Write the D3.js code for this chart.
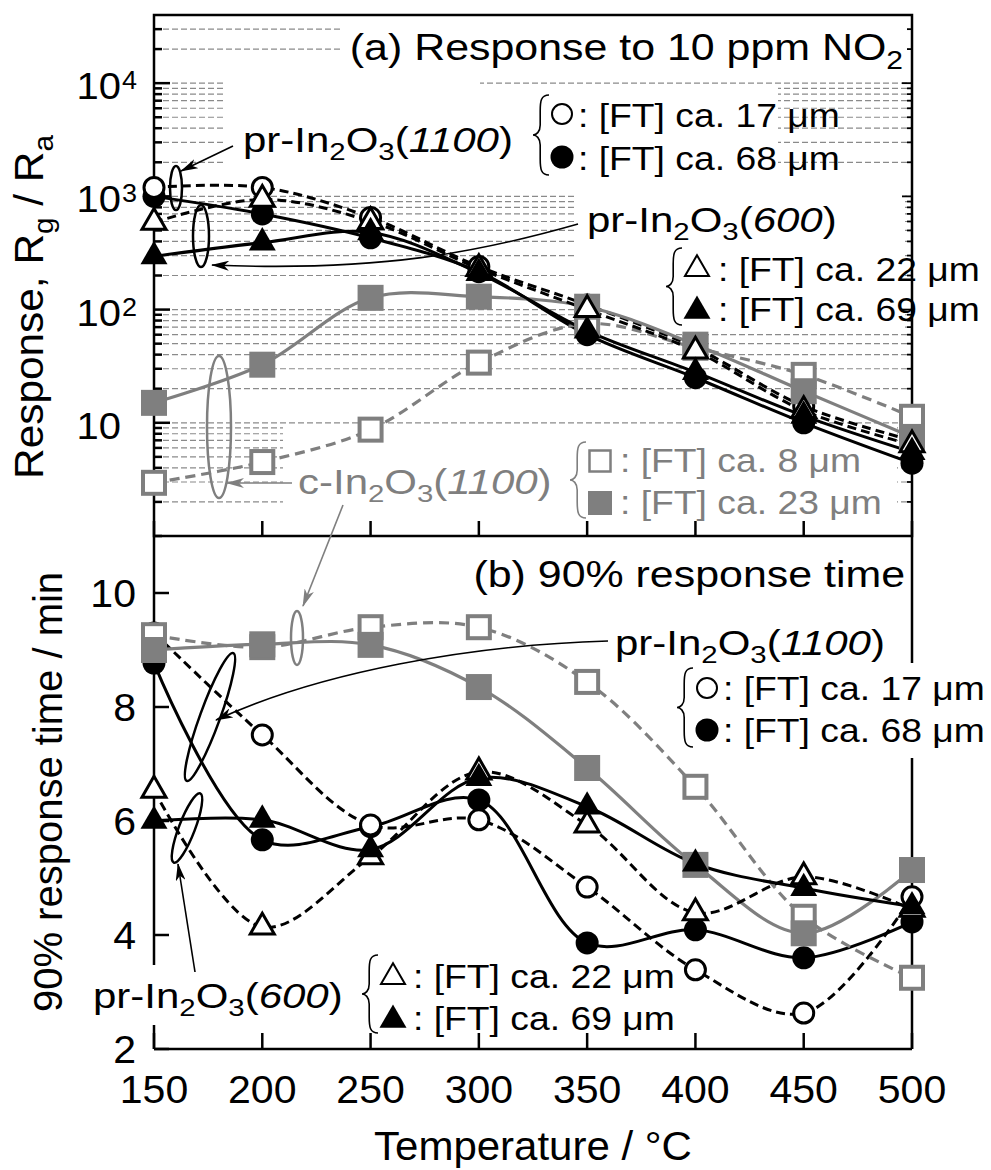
<!DOCTYPE html>
<html>
<head>
<meta charset="utf-8">
<script src="https://cdn.jsdelivr.net/npm/d3@7"></script>
<style>
  body { margin: 0; background: #fff; }
  svg { display: block; }
  text { font-family: "Liberation Sans", Arial, Helvetica, sans-serif; }
</style>
</head>
<body>
<svg id="chart" width="991" height="1170"></svg>
<script>
// ---- data ----
const temps = [150, 200, 250, 300, 350, 400, 450, 500];

// (a) response Rg/Ra to 10 ppm NO2
const respPr1100Thin  = [1200, 1200, 650, 240, 110, 46, 14, 7.0];   // open circle
const respPr1100Thick = [1000, 700, 430, 216, 60, 25, 10, 4.4];     // filled circle
const respPr600Thin   = [590, 940, 600, 230, 100, 43, 12.8, 6.4];   // open triangle
const respPr600Thick  = [295, 390, 480, 210, 65, 28, 11.5, 5.5];    // filled triangle
const respCThin       = [2.95, 4.5, 8.7, 34, 75, 46, 26.5, 11.3];   // open square
const respCThick      = [15, 32.6, 127, 130, 106, 49, 19, 7.5];     // filled square

// (b) 90% response time / min
const timePr1100Thin  = [9.3, 7.51, 5.93, 6.02, 4.84, 3.39, 2.63, 4.67];
const timePr1100Thick = [8.77, 5.67, 5.9, 6.37, 3.86, 4.09, 3.6, 4.23];
const timePr600Thin   = [6.54, 4.14, 5.37, 6.86, 5.93, 4.39, 5.02, 4.45];
const timePr600Thick  = [6.0, 6.02, 5.5, 6.75, 6.25, 5.25, 4.82, 4.5];
const timeCThin       = [9.26, 9.05, 9.4, 9.4, 8.44, 6.6, 4.32, 3.25];
const timeCThick      = [9.0, 9.1, 9.09, 8.35, 6.93, 5.23, 4.03, 5.14];

const xTicks = temps;
const yTicksB = [2, 4, 6, 8, 10];
const yMajorA = [10, 100, 1000, 10000];

// ---- layout ----
const GRAY = '#7f7f7f';
const L = 154, R = 912, TOP_A = 15, BOT_A = 536, BOT_B = 1049;

const svg = d3.select('#chart');
const x = d3.scaleLinear([150, 500], [L, R]);
const ya = d3.scaleLog([1, 40000], [BOT_A, TOP_A]);
const yb = d3.scaleLinear([2, 11], [BOT_B, BOT_A]);

// arrow markers
const defs = svg.append('defs');
[['arrBlack', '#000'], ['arrGray', GRAY]].forEach(([id, c]) => {
  defs.append('marker').attr('id', id)
    .attr('viewBox', '0 0 18 10').attr('refX', 17).attr('refY', 5)
    .attr('markerWidth', 18).attr('markerHeight', 10)
    .attr('markerUnits', 'userSpaceOnUse').attr('orient', 'auto')
    .append('path').attr('d', 'M0,0 L18,5 L0,10 L5,5 Z').attr('fill', c);
});

// text (horizontally widened like the original typesetting), with sub/sup and italics
function rich(sel, px, py, parts, size, opt = {}) {
  const sx = opt.sx || 1, rot = opt.rot || 0;
  const g = sel.append('g').attr('transform', `translate(${px},${py}) rotate(${rot}) scale(${sx},1)`);
  const t = g.append('text').attr('x', 0).attr('y', 0)
    .attr('font-size', size).attr('fill', opt.color || '#000')
    .attr('text-anchor', opt.anchor || 'start');
  if (typeof parts === 'string') parts = [{ t: parts }];
  let shift = 0;
  parts.forEach(p => {
    const s = t.append('tspan').text(p.t);
    const target = p.sub ? size * 0.24 : p.sup ? -size * 0.4 : 0;
    if (target !== shift) s.attr('dy', target - shift);
    shift = target;
    if (p.sub || p.sup) s.attr('font-size', size * 0.7);
    if (p.it) s.attr('font-style', 'italic');
  });
  return t;
}
const inName = (pre, italicPart) => [
  { t: pre + '-In' }, { t: '2', sub: true }, { t: 'O' }, { t: '3', sub: true },
  { t: '(' }, { t: italicPart, it: true }, { t: ')' }
];

function brace(sel, bx, y0, y1, w, color = '#000') {
  const ym = (y0 + y1) / 2, xm = bx + w * 0.45;
  sel.append('path')
    .attr('d', `M${bx + w},${y0} C${bx + w * 0.5},${y0} ${xm},${y0 + 6} ${xm},${y0 + 16}
      L${xm},${ym - 10} C${xm},${ym - 3} ${bx + w * 0.2},${ym} ${bx},${ym}
      C${bx + w * 0.2},${ym} ${xm},${ym + 3} ${xm},${ym + 10}
      L${xm},${y1 - 16} C${xm},${y1 - 6} ${bx + w * 0.5},${y1} ${bx + w},${y1}`)
    .attr('fill', 'none').attr('stroke', color).attr('stroke-width', 1.6);
}

// ---- gridlines panel (a) ----
const gridVals = [];
for (let n = 0; n <= 4; n++) for (let k = 1; k <= 9; k++) {
  const v = k * Math.pow(10, n);
  if (v > 1 && v < 40000) gridVals.push(v);
}
svg.append('g').selectAll('line').data(gridVals).join('line')
  .attr('x1', L).attr('x2', R).attr('y1', d => ya(d)).attr('y2', d => ya(d))
  .attr('stroke', '#8a8a8a').attr('stroke-width', 1.2).attr('stroke-dasharray', '6,3');

// white boxes under annotation text in (a)
const masksA = [
  [341, 16, 571, 60], [223, 80, 257, 110], [223, 86, 555, 104],
  [577, 190, 328, 138], [283, 426, 614, 110]
];
svg.append('g').selectAll('rect').data(masksA).join('rect')
  .attr('x', d => d[0]).attr('y', d => d[1]).attr('width', d => d[2]).attr('height', d => d[3])
  .attr('fill', '#fff');

// ---- axes ----
const axes = svg.append('g').attr('stroke', '#000').attr('stroke-width', 2.5).attr('fill', 'none');
axes.append('rect').attr('x', L).attr('y', TOP_A).attr('width', R - L).attr('height', BOT_A - TOP_A);
axes.append('line').attr('x1', L).attr('x2', L).attr('y1', BOT_A).attr('y2', BOT_B);
axes.append('line').attr('x1', R).attr('x2', R).attr('y1', BOT_A).attr('y2', BOT_B);
axes.append('line').attr('x1', L).attr('x2', R).attr('y1', BOT_B).attr('y2', BOT_B);

// log ticks (a), left and right
const logTicks = gridVals.concat([1]);
axes.append('g').selectAll('line').data(logTicks).join('line')
  .attr('x1', L).attr('x2', d => L + (yMajorA.includes(d) ? 16 : 8))
  .attr('y1', d => ya(d)).attr('y2', d => ya(d));
axes.append('g').selectAll('line').data(logTicks).join('line')
  .attr('x1', R).attr('x2', d => R - (yMajorA.includes(d) ? 10 : 5))
  .attr('y1', d => ya(d)).attr('y2', d => ya(d)).attr('stroke-width', 1.8);
// x ticks (a) and (b)
axes.append('g').selectAll('line').data(xTicks).join('line')
  .attr('x1', d => x(d)).attr('x2', d => x(d)).attr('y1', BOT_A).attr('y2', BOT_A - 15);
axes.append('g').selectAll('line').data(xTicks).join('line')
  .attr('x1', d => x(d)).attr('x2', d => x(d)).attr('y1', BOT_B).attr('y2', BOT_B - 16);
// y ticks (b)
axes.append('g').selectAll('line').data(yTicksB).join('line')
  .attr('x1', L).attr('x2', L + 15).attr('y1', d => yb(d)).attr('y2', d => yb(d));

// white boxes in (b) that cut the axis lines
const masksB = [[682, 663, 309, 95], [90, 965, 262, 60]];
svg.append('g').selectAll('rect').data(masksB).join('rect')
  .attr('x', d => d[0]).attr('y', d => d[1]).attr('width', d => d[2]).attr('height', d => d[3])
  .attr('fill', '#fff');

// ---- tick labels ----
const lab = svg.append('g');
const TSX = 1.08;
yMajorA.forEach(v => {
  const e = Math.round(Math.log10(v));
  rich(lab, 121, ya(v) + 16, '10', 37, { anchor: 'end', sx: TSX });
  if (e > 1) rich(lab, 122, ya(v) + 6, String(e), 25, { sx: TSX });
});
yTicksB.forEach(v => rich(lab, 136, yb(v) + 13.5, String(v), 38, { anchor: 'end', sx: TSX }));
xTicks.forEach(v => rich(lab, x(v), 1103, String(v), 38, { anchor: 'middle', sx: TSX }));
rich(lab, (L + R) / 2, 1160, 'Temperature / °C', 40, { anchor: 'middle', sx: 1.05 });
rich(lab, 43, 307, [{ t: 'Response, R' }, { t: 'g', sub: true }, { t: ' / R' }, { t: 'a', sub: true }], 40,
  { anchor: 'middle', rot: -90, sx: 1.06 });
rich(lab, 62, 792, '90% response time / min', 40, { anchor: 'middle', rot: -90, sx: 1.0 });

// ---- series ----
const styles = {
  pr1100Thin:  { shape: 'circle',   open: true,  color: '#000', dash: '9,5' },
  pr1100Thick: { shape: 'circle',   open: false, color: '#000', dash: null },
  pr600Thin:   { shape: 'triangle', open: true,  color: '#000', dash: '9,5' },
  pr600Thick:  { shape: 'triangle', open: false, color: '#000', dash: null },
  cThin:       { shape: 'square',   open: true,  color: GRAY,   dash: '10,6' },
  cThick:      { shape: 'square',   open: false, color: GRAY,   dash: null }
};
const panels = [
  { y: ya, series: [
    ['pr1100Thick', respPr1100Thick], ['pr1100Thin', respPr1100Thin],
    ['cThin', respCThin], ['cThick', respCThick],
    ['pr600Thin', respPr600Thin], ['pr600Thick', respPr600Thick]] },
  { y: yb, series: [
    ['pr1100Thick', timePr1100Thick], ['pr1100Thin', timePr1100Thin],
    ['cThin', timeCThin], ['cThick', timeCThick],
    ['pr600Thin', timePr600Thin], ['pr600Thick', timePr600Thick]] }
];

function drawMarker(g, st, cx, cy, legend = false) {
  if (st.shape === 'circle') {
    g.append('circle').attr('cx', cx).attr('cy', cy).attr('r', st.open ? 10 : 11.5)
      .attr('fill', st.open ? '#fff' : st.color).attr('stroke', st.open ? st.color : 'none')
      .attr('stroke-width', legend ? 2 : 3);
  } else if (st.shape === 'square') {
    const s = st.open ? (legend ? 21 : 22) : (legend ? 24 : 26);
    g.append('rect').attr('x', cx - s / 2).attr('y', cy - s / 2).attr('width', s).attr('height', s)
      .attr('fill', st.open ? '#fff' : st.color).attr('stroke', st.open ? st.color : 'none')
      .attr('stroke-width', legend ? 2.5 : 4);
  } else {
    const side = st.open ? 24 : 27;
    g.append('path').attr('transform', `translate(${cx},${cy})`)
      .attr('d', d3.symbol(d3.symbolTriangle, Math.sqrt(3) / 4 * side * side)())
      .attr('fill', st.open ? '#fff' : st.color).attr('stroke', st.open ? st.color : 'none')
      .attr('stroke-width', legend ? 2 : 3);
  }
}

panels.forEach(p => {
  const line = d3.line().x((d, i) => x(temps[i])).y(d => p.y(d))
    .curve(d3.curveCatmullRom.alpha(0.5));
  const gl = svg.append('g');
  p.series.forEach(([key, vals]) => {
    const st = styles[key];
    gl.append('path').attr('d', line(vals)).attr('fill', 'none')
      .attr('stroke', st.color).attr('stroke-width', st.color === GRAY ? 3.2 : 3)
      .attr('stroke-dasharray', st.dash);
  });
  const gm = svg.append('g');
  p.series.forEach(([key, vals]) => {
    vals.forEach((v, i) => drawMarker(gm, styles[key], x(temps[i]), p.y(v)));
  });
});

// ---- annotations ----
const ann = svg.append('g');
const thin = (sel, c = '#000') => sel.attr('fill', 'none').attr('stroke', c).attr('stroke-width', 1.6);
const LBL = 1.2, TTL = 1.16, LEG = 1.13;

// (a) titles and labels
rich(ann, 903, 60, [{ t: '(a) Response to 10 ppm NO' }, { t: '2', sub: true }], 37, { anchor: 'end', sx: TTL });
rich(ann, 243, 152, inName('pr', '1100'), 35, { sx: LBL });
rich(ann, 587, 232, inName('pr', '600'), 35, { sx: LBL });
rich(ann, 298, 494, inName('c', '1100'), 35, { sx: LBL, color: GRAY });

// (a) pr1100: arrow + ellipse
thin(ann.append('line').attr('x1', 233).attr('y1', 146).attr('x2', 181).attr('y2', 171))
  .attr('marker-end', 'url(#arrBlack)');
ann.append('ellipse').attr('cx', 176).attr('cy', 188).attr('rx', 6).attr('ry', 22)
  .attr('fill', 'none').attr('stroke', '#000').attr('stroke-width', 2.5);
// (a) pr600: curved leader + ellipse
thin(ann.append('path').attr('d', 'M578,224 C480,252 380,272 212,265'))
  .attr('marker-end', 'url(#arrBlack)');
ann.append('ellipse').attr('cx', 201).attr('cy', 236).attr('rx', 8).attr('ry', 31)
  .attr('fill', 'none').attr('stroke', '#000').attr('stroke-width', 2.5);
// (a) c-In2O3: arrow + ellipse, and leader into (b)
thin(ann.append('line').attr('x1', 292).attr('y1', 483).attr('x2', 227).attr('y2', 483), GRAY)
  .attr('marker-end', 'url(#arrGray)');
ann.append('ellipse').attr('cx', 219).attr('cy', 427).attr('rx', 12).attr('ry', 71)
  .attr('fill', 'none').attr('stroke', GRAY).attr('stroke-width', 2.5);
thin(ann.append('line').attr('x1', 343).attr('y1', 505).attr('x2', 303).attr('y2', 606), GRAY)
  .attr('marker-end', 'url(#arrGray)');
ann.append('ellipse').attr('cx', 297).attr('cy', 638).attr('rx', 6).attr('ry', 27)
  .attr('fill', 'none').attr('stroke', GRAY).attr('stroke-width', 2.5);

// legends
function legend(bx, y0, y1, items, color, size = 33) {
  brace(ann, bx, y0, y1, 16, color);
  items.forEach(it => {
    drawMarker(ann, styles[it.key], it.sx, it.sy, true);
    rich(ann, it.tx, it.ty, it.text, size, { sx: LEG, color });
  });
}
legend(533, 95, 175, [
  { key: 'pr1100Thin', sx: 562, sy: 114, tx: 578, ty: 127, text: ': [FT] ca. 17 μm' },
  { key: 'pr1100Thick', sx: 562, sy: 157, tx: 578, ty: 170, text: ': [FT] ca. 68 μm' }
], '#000');
legend(666, 248, 325, [
  { key: 'pr600Thin', sx: 697, sy: 269, tx: 718, ty: 281, text: ': [FT] ca. 22 μm' },
  { key: 'pr600Thick', sx: 697, sy: 311, tx: 718, ty: 321, text: ': [FT] ca. 69 μm' }
], '#000');
legend(570, 442, 518, [
  { key: 'cThin', sx: 600, sy: 461, tx: 620, ty: 472, text: ': [FT] ca. 8 μm' },
  { key: 'cThick', sx: 600, sy: 503, tx: 620, ty: 514, text: ': [FT] ca. 23 μm' }
], GRAY);

// (b) titles and labels
rich(ann, 905, 587, '(b) 90% response time', 37, { anchor: 'end', sx: TTL });
rich(ann, 615, 655, inName('pr', '1100'), 35, { sx: LBL });
rich(ann, 93, 1008, inName('pr', '600'), 35, { sx: LBL });

thin(ann.append('path').attr('d', 'M608,641 C470,645 320,672 216,720'))
  .attr('marker-end', 'url(#arrBlack)');
ann.append('ellipse').attr('cx', 210).attr('cy', 717).attr('rx', 10).attr('ry', 68)
  .attr('transform', 'rotate(20,210,717)')
  .attr('fill', 'none').attr('stroke', '#000').attr('stroke-width', 2.5);
thin(ann.append('line').attr('x1', 195).attr('y1', 972).attr('x2', 178).attr('y2', 864))
  .attr('marker-end', 'url(#arrBlack)');
ann.append('ellipse').attr('cx', 187).attr('cy', 828).attr('rx', 8).attr('ry', 37)
  .attr('transform', 'rotate(21,187,828)')
  .attr('fill', 'none').attr('stroke', '#000').attr('stroke-width', 2.5);

legend(677, 668, 747, [
  { key: 'pr1100Thin', sx: 707, sy: 688, tx: 723, ty: 700, text: ': [FT] ca. 17 μm' },
  { key: 'pr1100Thick', sx: 707, sy: 730, tx: 723, ty: 742, text: ': [FT] ca. 68 μm' }
], '#000');
legend(362, 955, 1033, [
  { key: 'pr600Thin', sx: 393, sy: 977, tx: 413, ty: 988, text: ': [FT] ca. 22 μm' },
  { key: 'pr600Thick', sx: 393, sy: 1020, tx: 413, ty: 1030, text: ': [FT] ca. 69 μm' }
], '#000');
</script>
</body>
</html>
